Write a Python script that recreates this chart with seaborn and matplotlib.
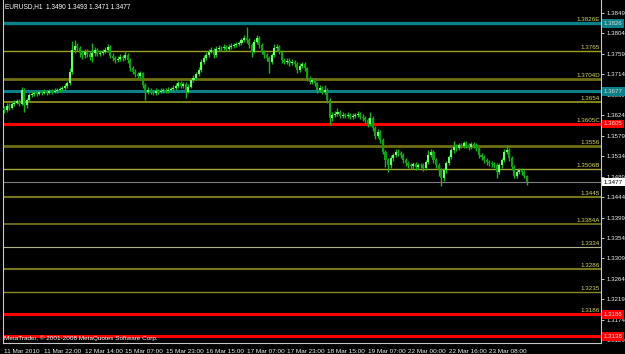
import matplotlib
matplotlib.use("Agg")
import matplotlib.pyplot as plt
import matplotlib.transforms as mtransforms
import pandas as pd
import seaborn as sns

# ---------------- data ----------------
symbol_title = "EURUSD,H1  1.3490 1.3493 1.3471 1.3477"
copyright_text = "MetaTrader, \u00a9 2001-2008 MetaQuotes Software Corp."

first_open = 1.3640
close = [
    1.3636, 1.3645, 1.3640, 1.3649, 1.3651, 1.3656, 1.3649, 1.3680, 1.3647, 1.3658,
    1.3669, 1.3671, 1.3673, 1.3671, 1.3676, 1.3673, 1.3676, 1.3673, 1.3678, 1.3676,
    1.3678, 1.3680, 1.3682, 1.3684, 1.3689, 1.3695, 1.3720, 1.3768, 1.3777, 1.3772,
    1.3761, 1.3757, 1.3764, 1.3759, 1.3753, 1.3761, 1.3768, 1.3759, 1.3761, 1.3764,
    1.3768, 1.3775, 1.3755, 1.3750, 1.3746, 1.3748, 1.3753, 1.3750, 1.3757, 1.3746,
    1.3728, 1.3720, 1.3715, 1.3711, 1.3717, 1.3691, 1.3676, 1.3680, 1.3676, 1.3673,
    1.3678, 1.3676, 1.3678, 1.3680, 1.3678, 1.3680, 1.3682, 1.3684, 1.3689, 1.3695,
    1.3689, 1.3693, 1.3676, 1.3687, 1.3702, 1.3706, 1.3715, 1.3724, 1.3742, 1.3750,
    1.3757, 1.3764, 1.3768, 1.3757, 1.3770, 1.3772, 1.3772, 1.3775, 1.3770, 1.3775,
    1.3777, 1.3779, 1.3781, 1.3783, 1.3790, 1.3794, 1.3790, 1.3779, 1.3764, 1.3786,
    1.3794, 1.3779, 1.3764, 1.3757, 1.3750, 1.3742, 1.3757, 1.3772, 1.3775, 1.3764,
    1.3746, 1.3742, 1.3744, 1.3739, 1.3742, 1.3737, 1.3724, 1.3733, 1.3737, 1.3728,
    1.3706, 1.3698, 1.3702, 1.3695, 1.3680, 1.3684, 1.3676, 1.3680, 1.3658, 1.3618,
    1.3625, 1.3627, 1.3632, 1.3623, 1.3625, 1.3623, 1.3625, 1.3621, 1.3623, 1.3625,
    1.3627, 1.3621, 1.3618, 1.3614, 1.3605, 1.3618, 1.3596, 1.3579, 1.3588, 1.3570,
    1.3544, 1.3526, 1.3514, 1.3530, 1.3537, 1.3544, 1.3541, 1.3537, 1.3526, 1.3519,
    1.3514, 1.3512, 1.3517, 1.3510, 1.3514, 1.3514, 1.3508, 1.3521, 1.3537, 1.3544,
    1.3526, 1.3514, 1.3503, 1.3486, 1.3503, 1.3519, 1.3532, 1.3548, 1.3554, 1.3552,
    1.3559, 1.3557, 1.3563, 1.3559, 1.3554, 1.3561, 1.3557, 1.3552, 1.3537, 1.3532,
    1.3526, 1.3521, 1.3519, 1.3517, 1.3514, 1.3499, 1.3514, 1.3526, 1.3544, 1.3548,
    1.3530, 1.3510, 1.3490, 1.3499, 1.3503, 1.3499, 1.3490, 1.3477,
]
high = [
    1.3645, 1.3650, 1.3652, 1.3654, 1.3657, 1.3660, 1.3660, 1.3687, 1.3684, 1.3663,
    1.3674, 1.3677, 1.3678, 1.3677, 1.3680, 1.3679, 1.3681, 1.3679, 1.3682, 1.3681,
    1.3683, 1.3684, 1.3686, 1.3689, 1.3694, 1.3700, 1.3728, 1.3788, 1.3790, 1.3784,
    1.3776, 1.3768, 1.3770, 1.3769, 1.3765, 1.3783, 1.3774, 1.3772, 1.3767, 1.3769,
    1.3774, 1.3781, 1.3778, 1.3760, 1.3755, 1.3754, 1.3758, 1.3757, 1.3766, 1.3760,
    1.3749, 1.3732, 1.3725, 1.3719, 1.3722, 1.3720, 1.3694, 1.3686, 1.3684, 1.3680,
    1.3683, 1.3682, 1.3683, 1.3685, 1.3684, 1.3686, 1.3687, 1.3690, 1.3694, 1.3700,
    1.3699, 1.3698, 1.3697, 1.3692, 1.3707, 1.3712, 1.3720, 1.3730, 1.3748, 1.3756,
    1.3763, 1.3770, 1.3775, 1.3772, 1.3776, 1.3778, 1.3777, 1.3780, 1.3779, 1.3780,
    1.3782, 1.3784, 1.3786, 1.3788, 1.3795, 1.3800, 1.3818, 1.3795, 1.3783, 1.3792,
    1.3801, 1.3798, 1.3783, 1.3768, 1.3762, 1.3755, 1.3762, 1.3781, 1.3781, 1.3779,
    1.3768, 1.3751, 1.3750, 1.3749, 1.3747, 1.3746, 1.3741, 1.3738, 1.3742, 1.3741,
    1.3731, 1.3710, 1.3707, 1.3706, 1.3698, 1.3690, 1.3688, 1.3691, 1.3684, 1.3661,
    1.3631, 1.3634, 1.3640, 1.3636, 1.3631, 1.3630, 1.3631, 1.3630, 1.3628, 1.3630,
    1.3633, 1.3632, 1.3626, 1.3623, 1.3618, 1.3631, 1.3622, 1.3600, 1.3594, 1.3592,
    1.3574, 1.3548, 1.3530, 1.3536, 1.3542, 1.3550, 1.3549, 1.3546, 1.3541, 1.3530,
    1.3524, 1.3519, 1.3522, 1.3521, 1.3520, 1.3519, 1.3518, 1.3526, 1.3548, 1.3550,
    1.3548, 1.3530, 1.3518, 1.3507, 1.3508, 1.3524, 1.3537, 1.3553, 1.3567, 1.3560,
    1.3564, 1.3563, 1.3568, 1.3567, 1.3564, 1.3566, 1.3566, 1.3562, 1.3555, 1.3541,
    1.3537, 1.3531, 1.3526, 1.3524, 1.3522, 1.3518, 1.3519, 1.3531, 1.3549, 1.3559,
    1.3552, 1.3534, 1.3514, 1.3504, 1.3508, 1.3508, 1.3504, 1.3493,
]
low = [
    1.3630, 1.3632, 1.3636, 1.3637, 1.3645, 1.3648, 1.3644, 1.3646, 1.3632, 1.3640,
    1.3654, 1.3665, 1.3667, 1.3666, 1.3668, 1.3669, 1.3670, 1.3669, 1.3670, 1.3671,
    1.3672, 1.3674, 1.3676, 1.3678, 1.3680, 1.3685, 1.3690, 1.3715, 1.3760, 1.3766,
    1.3752, 1.3748, 1.3750, 1.3752, 1.3746, 1.3741, 1.3755, 1.3754, 1.3754, 1.3756,
    1.3760, 1.3763, 1.3750, 1.3744, 1.3740, 1.3741, 1.3743, 1.3744, 1.3745, 1.3740,
    1.3722, 1.3714, 1.3709, 1.3705, 1.3706, 1.3684, 1.3658, 1.3670, 1.3671, 1.3668,
    1.3669, 1.3671, 1.3672, 1.3674, 1.3673, 1.3674, 1.3676, 1.3678, 1.3679, 1.3685,
    1.3683, 1.3685, 1.3662, 1.3672, 1.3683, 1.3697, 1.3701, 1.3710, 1.3720, 1.3737,
    1.3745, 1.3752, 1.3760, 1.3750, 1.3753, 1.3765, 1.3766, 1.3767, 1.3765, 1.3766,
    1.3770, 1.3772, 1.3774, 1.3776, 1.3778, 1.3785, 1.3784, 1.3772, 1.3753, 1.3760,
    1.3780, 1.3772, 1.3758, 1.3750, 1.3743, 1.3717, 1.3737, 1.3752, 1.3766, 1.3758,
    1.3739, 1.3736, 1.3737, 1.3733, 1.3734, 1.3731, 1.3717, 1.3719, 1.3728, 1.3722,
    1.3700, 1.3692, 1.3693, 1.3689, 1.3674, 1.3675, 1.3670, 1.3671, 1.3650, 1.3603,
    1.3612, 1.3620, 1.3622, 1.3617, 1.3618, 1.3618, 1.3619, 1.3616, 1.3616, 1.3618,
    1.3620, 1.3615, 1.3612, 1.3608, 1.3598, 1.3600, 1.3590, 1.3572, 1.3574, 1.3562,
    1.3538, 1.3510, 1.3500, 1.3508, 1.3524, 1.3532, 1.3535, 1.3530, 1.3520, 1.3512,
    1.3508, 1.3506, 1.3506, 1.3504, 1.3505, 1.3508, 1.3501, 1.3503, 1.3516, 1.3532,
    1.3520, 1.3508, 1.3490, 1.3469, 1.3480, 1.3498, 1.3514, 1.3527, 1.3542, 1.3546,
    1.3547, 1.3551, 1.3551, 1.3553, 1.3548, 1.3549, 1.3551, 1.3546, 1.3530, 1.3526,
    1.3520, 1.3515, 1.3513, 1.3511, 1.3508, 1.3486, 1.3494, 1.3509, 1.3521, 1.3539,
    1.3524, 1.3504, 1.3486, 1.3485, 1.3494, 1.3493, 1.3485, 1.3471,
]

date_labels = [
    "11 Mar 2010", "11 Mar 22:00", "12 Mar 14:00", "15 Mar 07:00", "15 Mar 23:00",
    "16 Mar 15:00", "17 Mar 07:00", "17 Mar 23:00", "18 Mar 15:00", "19 Mar 07:00",
    "22 Mar 00:00", "22 Mar 16:00", "23 Mar 08:00",
]
date_label_bars = [0, 16, 32, 48, 64, 80, 96, 112, 128, 144, 160, 176, 192]

price_ticks = [1.3849, 1.3804, 1.3759, 1.3714, 1.3669, 1.3624, 1.3579, 1.3534, 1.3489,
               1.3444, 1.3399, 1.3354, 1.3309, 1.3264, 1.3219, 1.3174, 1.3129]

level_prices = [1.3826, 1.3765, 1.3704, 1.3677, 1.3654, 1.3605, 1.3556, 1.3506,
                1.3477, 1.3445, 1.3384, 1.3334, 1.3286, 1.3235, 1.3186, 1.3138]
level_labels = ["1.3826E", "1.3765", "1.3704D", "", "1.3654", "1.3605C", "1.3556",
                "1.3506B", "", "1.3445", "1.3384A", "1.3334", "1.3286", "1.3235",
                "1.3186", ""]
box_prices = [1.3826, 1.3677, 1.3605, 1.3477, 1.3186, 1.3138]
box_labels = ["1.3826", "1.3677", "1.3605", "1.3477", "1.3186", "1.3138"]

# ---------------- styles ----------------
TEAL = "#0b8088"
RED = "#ff0000"
level_styles = [
    (TEAL, 2.4), ("#a0a020", 1.0), ("#6e6e14", 2.0), (TEAL, 2.2), ("#86861c", 1.4),
    (RED, 2.2), ("#6e6e14", 2.0), ("#a8a83a", 1.0), ("#7f7f7f", 0.8), ("#76761a", 1.5),
    ("#76761a", 1.2), ("#b4b48c", 0.8), ("#76761a", 1.5), ("#8a8a22", 1.0),
    (RED, 2.2), (RED, 2.2),
]
box_styles = [(TEAL, "#d8d8d8"), (TEAL, "#d8d8d8"), (RED, "#f4dada"),
              ("#ffffff", "#000000"), (RED, "#f4dada"), (RED, "#f4dada")]

sns.set_theme(style="dark", rc={
    "axes.facecolor": "black",
    "figure.facecolor": "black",
    "savefig.facecolor": "black",
    "axes.grid": False,
})
plt.rcParams["font.family"] = ["Liberation Sans", "DejaVu Sans"]

df = pd.DataFrame({"close": close, "high": high, "low": low})
df["open"] = [first_open] + close[:-1]
df["bar"] = range(len(df))
df["bull"] = df["close"] >= df["open"]

W, H = 625, 354
fig = plt.figure(figsize=(W / 100, H / 100), dpi=100)
ax = fig.add_axes([3 / W, 11 / H, 598 / W, 343 / H])
ax.set_facecolor("black")

ax.set_ylim(1.31230, 1.38776)
ax.set_xlim(-0.4, 236.3)

# level lines
for p, (col, lw) in zip(level_prices, level_styles):
    ax.axhline(p, color=col, lw=lw, zorder=1)

# candles
ax.vlines(df["bar"], df["low"], df["high"], color="#18b418", lw=1.0, zorder=2)
body = (df["close"] - df["open"])
body = body.where(body.abs() > 0.00004, 0.00004)
colors = ["#66ff66" if b else "#12a012" for b in df["bull"]]
ax.bar(df["bar"], body, bottom=df["open"], width=0.8, color=colors,
       edgecolor="none", linewidth=0, zorder=3)

# level labels
trans_lbl = mtransforms.blended_transform_factory(ax.transAxes, ax.transData)
lbl_off = mtransforms.ScaledTranslation(0, 0.8 / 72, fig.dpi_scale_trans)
for p, lab in zip(level_prices, level_labels):
    if lab:
        ax.text(0.9985, p, lab, transform=trans_lbl + lbl_off,
                ha="right", va="bottom", color="#d4d45a", fontsize=4.5, zorder=4)

# axes styling
for side in ["left", "right", "bottom"]:
    ax.spines[side].set_visible(True)
    ax.spines[side].set_color("#c8c8c8")
    ax.spines[side].set_linewidth(0.8)
ax.spines["top"].set_visible(False)

ax.yaxis.tick_right()
ax.set_yticks(price_ticks)
ax.set_yticklabels([f"{p:.4f}" for p in price_ticks])
ax.tick_params(axis="y", which="both", direction="out", length=2.5, width=0.7,
               color="#c8c8c8", labelcolor="#eeeeee", labelsize=4.4, pad=1.2,
               left=False, right=True)

ax.set_xticks(date_label_bars)
ax.set_xticklabels(date_labels)
for t in ax.get_xticklabels():
    t.set_horizontalalignment("left")
ax.tick_params(axis="x", direction="out", length=3, width=0.7, color="#c8c8c8",
               labelcolor="#eeeeee", labelsize=4.6, pad=1.0)

# price boxes on the right scale
for p, lab, (fc, tc) in zip(box_prices, box_labels, box_styles):
    ax.text(1.0045, p, lab, transform=trans_lbl, ha="left", va="center",
            color=tc, fontsize=4.4, zorder=6, clip_on=False,
            bbox=dict(boxstyle="square,pad=0.3", fc=fc, ec="none"))

fig.text(5 / W, 1 - 6.5 / H, symbol_title, color="#ffffff", fontsize=4.7,
         ha="left", va="center")
fig.text(4 / W, 1 - 338.5 / H, copyright_text, color="#ffffff", fontsize=4.6,
         ha="left", va="center")

fig.savefig("out.png", dpi=100, facecolor="black")
